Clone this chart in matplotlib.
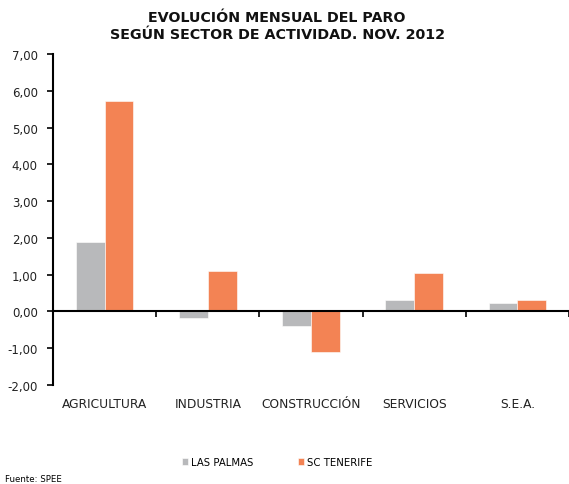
import matplotlib
matplotlib.use("Agg")
import matplotlib.pyplot as plt
import numpy as np
from matplotlib.transforms import blended_transform_factory

categories = ["AGRICULTURA", "INDUSTRIA", "CONSTRUCCIÓN", "SERVICIOS", "S.E.A."]
las_palmas = [1.90, -0.19, -0.39, 0.30, 0.24]
sc_tenerife = [5.72, 1.09, -1.09, 1.05, 0.30]
series_names = ["LAS PALMAS", "SC TENERIFE"]
yticks = [-2, -1, 0, 1, 2, 3, 4, 5, 6, 7]

c_gray = "#B8B9BB"
c_orange = "#F38354"

plt.rcParams['font.family'] = ['DejaVu Sans']
fig = plt.figure(figsize=(5.69, 4.85), dpi=100)
ax = fig.add_axes([53/569, 1-386/485, 1-53/569, (386-55)/485])

x = np.arange(len(categories))
w = 0.28
ax.bar(x - w/2, las_palmas, w, color=c_gray, edgecolor="white", linewidth=0.4, label=series_names[0])
ax.bar(x + w/2, sc_tenerife, w, color=c_orange, edgecolor="white", linewidth=0.4, label=series_names[1])

ax.set_xlim(-0.5, len(categories) - 0.5)
ax.set_ylim(-2, 7)
ax.set_yticks(yticks)
ax.set_yticklabels([f"{v:.2f}".replace(".", ",") for v in yticks], fontsize=8.5, color="#222222")
ax.tick_params(axis='y', direction='out', length=4, width=1.2, pad=7)

for s in ["top", "right"]:
    ax.spines[s].set_visible(False)
ax.spines["left"].set_linewidth(1.5)
ax.spines["bottom"].set_position(("data", 0))
ax.spines["bottom"].set_linewidth(1.5)
ax.set_xticks(np.arange(len(categories)) + 0.5)
ax.set_xticklabels([])
ax.tick_params(axis='x', direction='out', length=4, width=1.2)

trans = blended_transform_factory(ax.transData, fig.transFigure)
for xi, c in zip(x, categories):
    ax.text(xi, 1 - 405/485, c, transform=trans, ha='center', va='center', fontsize=8.8,
            color="#222222")

fig.text(277/569, 1 - 18/485, "EVOLUCIÓN MENSUAL DEL PARO", ha='center', va='center',
         fontsize=10.3, fontweight='bold', color="#111111")
fig.text(277/569, 1 - 35/485, "SEGÚN SECTOR DE ACTIVIDAD. NOV. 2012", ha='center', va='center',
         fontsize=10.3, fontweight='bold', color="#111111")

handles, labels = ax.get_legend_handles_labels()
fig.legend(handles, labels, loc='center', bbox_to_anchor=(277/569, 1 - 463/485), ncol=2,
           frameon=False, fontsize=7.3, handlelength=0.6, handleheight=0.6,
           handletextpad=0.3, columnspacing=4.4)

fig.text(5/569, 1 - 480/485, "Fuente: SPEE", ha='left', va='center', fontsize=6.2)

fig.savefig("out.png", dpi=100)
